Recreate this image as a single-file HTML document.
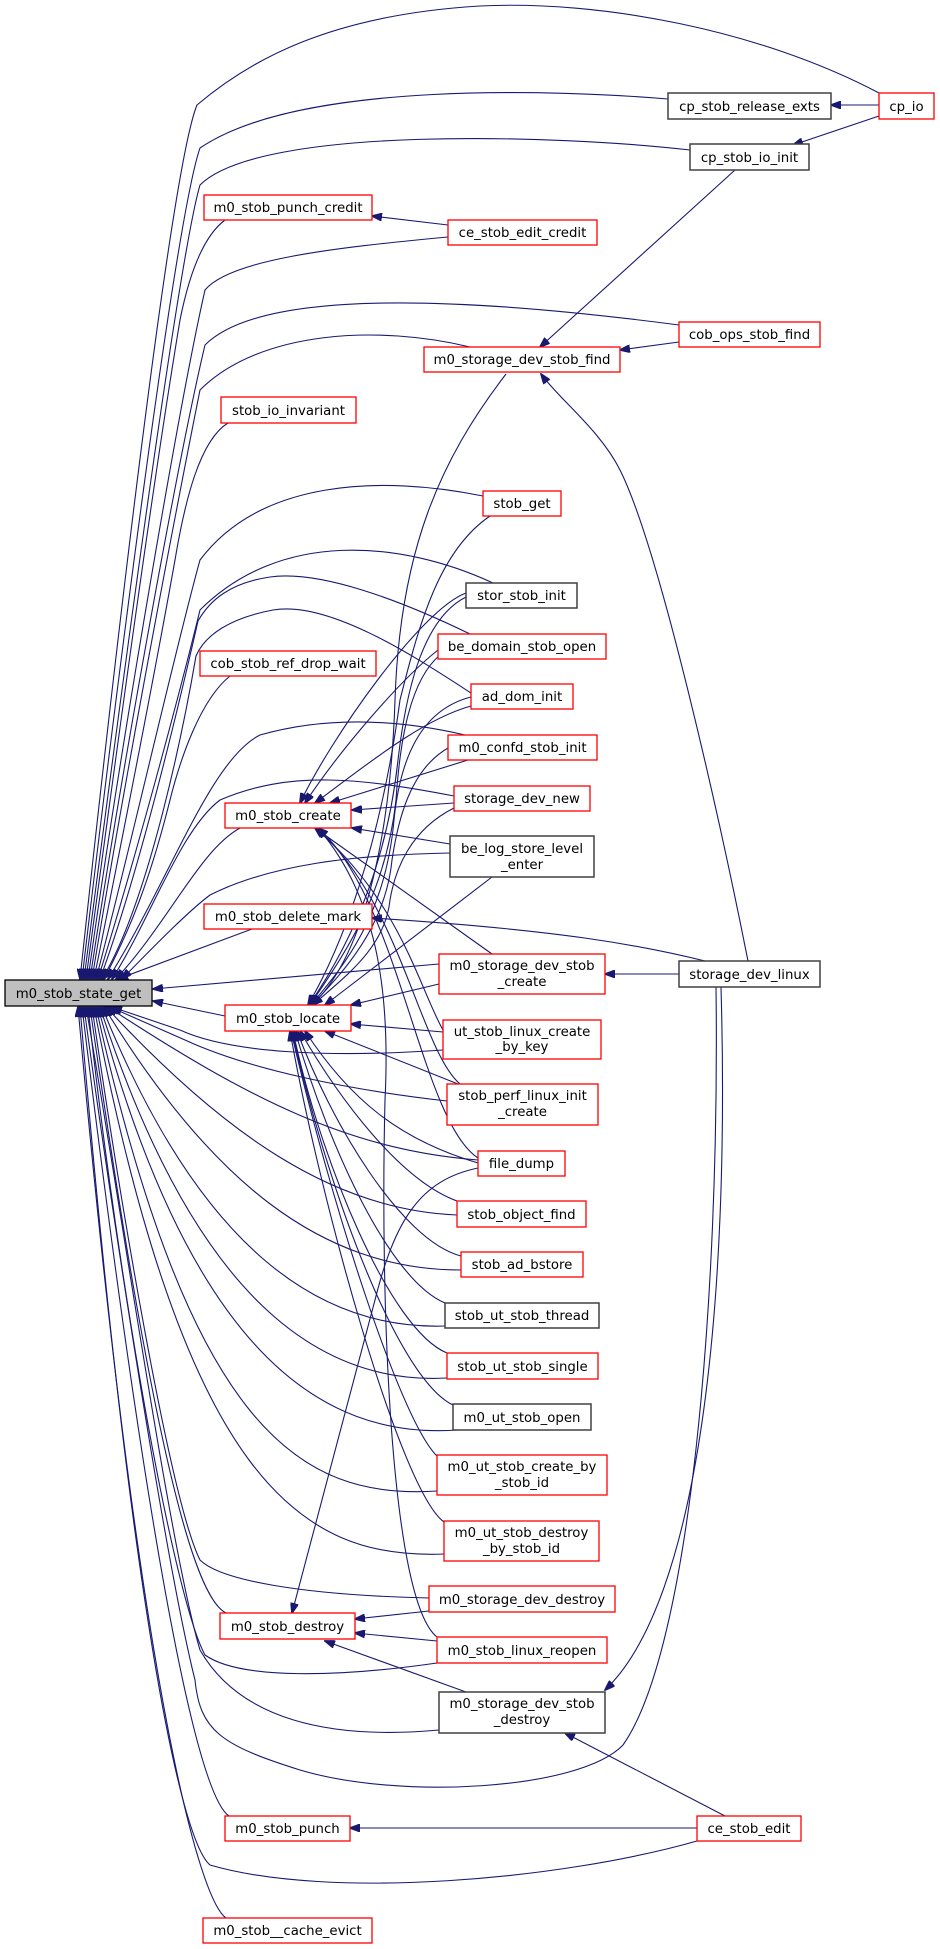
<!DOCTYPE html>
<html><head><meta charset="utf-8"><style>
html,body{margin:0;padding:0;background:#fff;}
svg{display:block;}
text{font-family:"DejaVu Sans","Liberation Sans",sans-serif;font-size:13.3px;fill:#000;text-anchor:middle;}
.e{fill:none;stroke:#191970;stroke-width:1.1;}
.r{fill:#fff;stroke:#ff0000;stroke-width:1.3;}
.k{fill:#fff;stroke:#404040;stroke-width:1.5;}
</style></head><body>
<svg width="940" height="1949" viewBox="0 0 940 1949" xmlns="http://www.w3.org/2000/svg">
<defs><marker id="a" markerWidth="11" markerHeight="8" refX="10" refY="4" orient="auto" markerUnits="userSpaceOnUse"><path d="M0,0 L11,4 L0,8 z" fill="#191970" stroke="#191970"/></marker></defs>
<g class="e" marker-end="url(#a)">
<path d="M879,93 C760,30 600,0 480,6 C330,15 250,60 197,105 C170,170 110,700 80,979"/>
<path d="M668,99 C560,90 300,80 200,148 C175,220 115,700 82,979"/>
<path d="M690,150 C560,135 260,125 200,185 C178,260 120,700 84,979"/>
<path d="M225,220 C205,235 190,270 180,320 C150,500 110,800 86,979"/>
<path d="M448,237 C330,248 230,260 205,290 C180,400 120,750 88,979"/>
<path d="M679,325 C450,295 260,290 205,345 C180,450 125,750 90,979"/>
<path d="M470,347 C380,325 260,330 200,390 C178,500 128,760 92,979"/>
<path d="M228,423 C200,440 185,500 175,560 C150,700 120,850 94,979"/>
<path d="M483,496 C380,475 260,480 200,560 C175,650 130,850 96,979"/>
<path d="M493,583 C400,540 280,530 200,610 C178,700 135,860 98,979"/>
<path d="M470,634 C400,600 320,570 270,577 C230,583 210,600 198,621 C180,700 140,870 100,979"/>
<path d="M471,693 C420,660 330,600 273,610 C230,618 205,635 196,656 C185,720 150,900 102,979"/>
<path d="M230,676 C200,700 180,760 170,800 C150,880 130,930 104,979"/>
<path d="M465,735 C400,720 330,715 260,735 C210,760 170,880 108,979"/>
<path d="M454,796 C360,778 290,770 220,800 C180,830 150,920 112,979"/>
<path d="M240,828 C200,850 170,920 116,979"/>
<path d="M450,853 C350,855 270,865 210,895 C190,910 160,940 122,979"/>
<path d="M252,929 L118,979"/>
<path d="M439,964 L153,989"/>
<path d="M225,1016 L153,1001"/>
<path d="M443,1050 C330,1058 230,1053 180,1030 L112,1007"/>
<path d="M447,1101 C350,1090 250,1070 185,1040 L110,1007"/>
<path d="M478,1160 C350,1150 250,1100 108,1007"/>
<path d="M457,1215 C330,1210 220,1130 106,1007"/>
<path d="M461,1270 C320,1270 210,1180 104,1007"/>
<path d="M445,1326 C320,1330 200,1250 102,1007"/>
<path d="M447,1378 C320,1385 195,1300 100,1007"/>
<path d="M458,1430 C320,1440 190,1350 98,1007"/>
<path d="M437,1491 C300,1500 190,1430 96,1007"/>
<path d="M444,1554 C300,1560 185,1480 94,1007"/>
<path d="M429,1598 C300,1595 220,1580 200,1560 C170,1500 120,1200 92,1007"/>
<path d="M226,1613 C200,1600 160,1500 90,1007"/>
<path d="M437,1663 C340,1677 240,1680 205,1655 C175,1600 120,1300 88,1007"/>
<path d="M439,1730 C330,1740 240,1720 200,1650 C170,1550 120,1200 86,1007"/>
<path d="M716,987 C720,1300 690,1650 623,1745 C580,1790 400,1800 300,1770 C220,1745 200,1730 195,1680 C165,1560 110,1200 84,1007"/>
<path d="M229,1816 C205,1800 160,1650 82,1007"/>
<path d="M697,1841 C560,1880 330,1900 210,1865 C180,1840 130,1600 80,1007"/>
<path d="M226,1918 C200,1900 140,1700 78,1007"/>
<path d="M879,105 L831,105"/>
<path d="M879,116 L793,145"/>
<path d="M448,225 L372,216"/>
<path d="M735,170 L540,347"/>
<path d="M679,342 L620,350"/>
<path d="M748,961 C720,820 660,550 620,470 C600,430 560,400 541,374"/>
<path d="M679,974 L605,974"/>
<path d="M705,961 C640,945 560,930 372,918"/>
<path d="M721,987 C730,1300 700,1600 605,1690"/>
<path d="M506,374 C440,460 400,550 395,700 C390,850 360,960 312,1005"/>
<path d="M697,1828 L350,1828"/>
<path d="M725,1816 L565,1733"/>
<path d="M429,1611 L355,1619"/>
<path d="M437,1641 L355,1633"/>
<path d="M466,1692 L325,1641"/>
<path d="M478,1168 C420,1180 395,1220 375,1300 L292,1613"/>
<path d="M437,1637 C390,1600 380,1300 385,1100 C390,1000 380,900 318,828"/>
<path d="M466,593 C420,610 330,740 300,803"/>
<path d="M438,650 C400,680 340,750 305,803"/>
<path d="M471,706 C420,720 360,770 315,803"/>
<path d="M468,760 L330,803"/>
<path d="M454,803 L352,810"/>
<path d="M450,844 L352,828"/>
<path d="M492,954 L315,828"/>
<path d="M443,1030 C420,990 400,900 315,828"/>
<path d="M460,1084 C420,1050 400,900 316,828"/>
<path d="M478,1158 C420,1120 400,900 318,828"/>
<path d="M490,516 C440,550 420,620 400,700 C380,850 340,950 308,1005"/>
<path d="M466,597 C420,620 405,700 398,760 C385,880 340,960 309,1005"/>
<path d="M440,655 C410,680 400,740 396,800 C385,900 340,960 310,1005"/>
<path d="M471,697 C420,710 400,760 394,820 C385,920 340,970 311,1005"/>
<path d="M448,748 C410,770 398,820 392,860 C385,930 340,975 312,1005"/>
<path d="M454,808 C410,830 395,870 390,900 C385,950 340,980 313,1005"/>
<path d="M492,877 L325,1005"/>
<path d="M439,984 L351,1005"/>
<path d="M443,1032 L351,1024"/>
<path d="M458,1084 L325,1031"/>
<path d="M478,1163 C400,1140 350,1100 305,1031"/>
<path d="M457,1201 C400,1180 340,1100 300,1031"/>
<path d="M461,1256 C400,1240 330,1120 297,1031"/>
<path d="M445,1303 C390,1280 330,1150 295,1031"/>
<path d="M447,1353 C390,1330 320,1160 293,1031"/>
<path d="M453,1405 C400,1380 330,1200 292,1031"/>
<path d="M437,1456 C400,1420 330,1200 291,1031"/>
<path d="M444,1522 C400,1490 320,1200 290,1031"/>
</g>
<rect x="5" y="980" width="147" height="26" fill="#bfbfbf" stroke="#000" stroke-width="1.3"/><text x="78.5" y="998">m0_stob_state_get</text>
<rect class="r" x="879" y="93" width="55" height="26"/><text x="906.5" y="111">cp_io</text>
<rect class="k" x="668" y="93" width="163" height="26"/><text x="749.5" y="111">cp_stob_release_exts</text>
<rect class="k" x="690" y="144" width="119" height="26"/><text x="749.5" y="162">cp_stob_io_init</text>
<rect class="r" x="204" y="195" width="168" height="25"/><text x="288" y="212">m0_stob_punch_credit</text>
<rect class="r" x="448" y="220" width="149" height="25"/><text x="522.5" y="237">ce_stob_edit_credit</text>
<rect class="r" x="679" y="322" width="141" height="25"/><text x="749.5" y="339">cob_ops_stob_find</text>
<rect class="r" x="424" y="347" width="196" height="25"/><text x="522" y="364">m0_storage_dev_stob_find</text>
<rect class="r" x="221" y="397" width="135" height="26"/><text x="288.5" y="415">stob_io_invariant</text>
<rect class="r" x="483" y="491" width="78" height="25"/><text x="522" y="508">stob_get</text>
<rect class="k" x="466" y="583" width="111" height="25"/><text x="521.5" y="600">stor_stob_init</text>
<rect class="r" x="438" y="634" width="168" height="25"/><text x="522" y="651">be_domain_stob_open</text>
<rect class="r" x="200" y="651" width="176" height="25"/><text x="288" y="668">cob_stob_ref_drop_wait</text>
<rect class="r" x="471" y="684" width="102" height="25"/><text x="522" y="701">ad_dom_init</text>
<rect class="r" x="448" y="735" width="149" height="25"/><text x="522.5" y="752">m0_confd_stob_init</text>
<rect class="r" x="454" y="786" width="136" height="25"/><text x="522" y="803">storage_dev_new</text>
<rect class="r" x="225" y="803" width="126" height="25"/><text x="288" y="820">m0_stob_create</text>
<rect class="k" x="450" y="836" width="144" height="41"/><text x="522" y="853">be_log_store_level</text><text x="522" y="869">_enter</text>
<rect class="r" x="204" y="904" width="168" height="25"/><text x="288" y="921">m0_stob_delete_mark</text>
<rect class="r" x="439" y="954" width="166" height="40"/><text x="522" y="970">m0_storage_dev_stob</text><text x="522" y="986">_create</text>
<rect class="k" x="679" y="961" width="141" height="26"/><text x="749.5" y="979">storage_dev_linux</text>
<rect class="r" x="225" y="1005" width="126" height="26"/><text x="288" y="1023">m0_stob_locate</text>
<rect class="r" x="443" y="1020" width="158" height="39"/><text x="522" y="1036">ut_stob_linux_create</text><text x="522" y="1051">_by_key</text>
<rect class="r" x="447" y="1084" width="151" height="41"/><text x="522.5" y="1100">stob_perf_linux_init</text><text x="522.5" y="1116">_create</text>
<rect class="r" x="478" y="1151" width="87" height="25"/><text x="521.5" y="1168">file_dump</text>
<rect class="r" x="457" y="1201" width="129" height="26"/><text x="521.5" y="1219">stob_object_find</text>
<rect class="r" x="461" y="1252" width="122" height="25"/><text x="522" y="1269">stob_ad_bstore</text>
<rect class="k" x="445" y="1303" width="154" height="25"/><text x="522" y="1320">stob_ut_stob_thread</text>
<rect class="r" x="447" y="1353" width="151" height="26"/><text x="522.5" y="1371">stob_ut_stob_single</text>
<rect class="k" x="453" y="1404" width="138" height="26"/><text x="522" y="1422">m0_ut_stob_open</text>
<rect class="r" x="437" y="1455" width="170" height="40"/><text x="522" y="1471">m0_ut_stob_create_by</text><text x="522" y="1487">_stob_id</text>
<rect class="r" x="444" y="1521" width="155" height="40"/><text x="521.5" y="1537">m0_ut_stob_destroy</text><text x="521.5" y="1553">_by_stob_id</text>
<rect class="r" x="429" y="1586" width="186" height="26"/><text x="522" y="1604">m0_storage_dev_destroy</text>
<rect class="r" x="220" y="1613" width="135" height="26"/><text x="287.5" y="1631">m0_stob_destroy</text>
<rect class="r" x="437" y="1637" width="170" height="26"/><text x="522" y="1655">m0_stob_linux_reopen</text>
<rect class="k" x="439" y="1692" width="166" height="41"/><text x="522" y="1708">m0_storage_dev_stob</text><text x="522" y="1724">_destroy</text>
<rect class="r" x="225" y="1816" width="125" height="25"/><text x="287.5" y="1833">m0_stob_punch</text>
<rect class="r" x="697" y="1816" width="104" height="25"/><text x="749" y="1833">ce_stob_edit</text>
<rect class="r" x="203" y="1918" width="169" height="25"/><text x="287.5" y="1935">m0_stob__cache_evict</text>
</svg>
</body></html>
